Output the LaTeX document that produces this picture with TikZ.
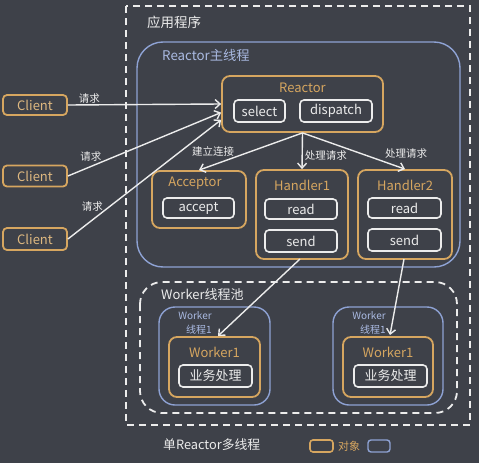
\documentclass[tikz,border=0pt]{standalone}
\usepackage{fontspec}
\setmainfont{Noto Sans CJK SC}
\usetikzlibrary{arrows.meta}
\definecolor{bg}{RGB}{62,65,73}
\definecolor{org}{RGB}{214,166,96}
\definecolor{blu}{RGB}{142,162,212}
\definecolor{blutxt}{RGB}{170,186,226}
\definecolor{wht}{RGB}{236,236,236}
\begin{document}
\begin{tikzpicture}[x=1pt,y=-1pt,
  obox/.style={draw=org,line width=1.8pt,rounded corners=8pt,inner sep=0pt},
  wbox/.style={draw=wht,line width=1.6pt,rounded corners=4pt,inner sep=0pt,text=wht,font=\fontsize{13}{15}\selectfont},
  cbox/.style={draw=org,line width=1.8pt,rounded corners=4pt,inner sep=0pt,text=org!80!white,font=\fontsize{13}{15}\selectfont,minimum width=64pt},
  ttl/.style={text=org,font=\fontsize{13}{15}\selectfont,inner sep=0pt},
  lbl/.style={text=wht,font=\fontsize{10.5}{12}\selectfont,inner sep=1pt},
  small/.style={text=blutxt,font=\fontsize{10}{11}\selectfont,inner sep=0pt},
  arr/.style={draw=wht,line width=1.4pt,-{Straight Barb[length=5pt,width=9pt,line width=1.4pt]}},
  dsh/.style={draw=wht,line width=1.8pt,dash pattern=on 7pt off 5pt},
  thr/.style={draw=blu,line width=1.4pt}]
\fill[bg] (0,0) rectangle (479,463);
\useasboundingbox (0,0) rectangle (479,463);

% outer application box
\draw[dsh] (126,6) rectangle (470,425);
\node[text=wht,font=\fontsize{13.5}{15}\selectfont,anchor=west,inner sep=0pt] (app) at (147,22) {应用程序};

% reactor main thread
\draw[thr,rounded corners=26pt] (137,42) rectangle (460,267);
\node[text=blutxt,font=\fontsize{13.3}{15}\selectfont,anchor=west,inner sep=0pt] (rmt) at (162,55) {Reactor主线程};

% Reactor
\node[obox,minimum width=161pt,minimum height=56pt] (reactor) at (302.5,104) {};
\node[ttl] (reactorT) at (302.5,88) {Reactor};
\node[wbox,minimum width=51pt,minimum height=22pt] (select) at (259.5,111) {select};
\node[wbox,minimum width=72pt,minimum height=22pt] (dispatch) at (336,111) {dispatch};

% Clients
\node[cbox,minimum height=20pt] (c1) at (35,105) {Client};
\node[cbox,minimum height=21pt] (c2) at (35,176) {Client};
\node[cbox,minimum height=22pt] (c3) at (35,239) {Client};

% Acceptor
\node[obox,minimum width=94pt,minimum height=57pt] (acceptor) at (199,199.5) {};
\node[ttl] (acceptorT) at (195,183) {Acceptor};
\node[wbox,minimum width=71pt,minimum height=20pt] (accept) at (198.5,208) {accept};

% Handler1
\node[obox,minimum width=92pt,minimum height=89pt] (h1) at (302,214.5) {};
\node[ttl] (h1T) at (302,185) {Handler1};
\node[wbox,minimum width=72pt,minimum height=20pt] (h1r) at (301,209) {read};
\node[wbox,minimum width=72pt,minimum height=22pt] (h1s) at (301,241) {send};

% Handler2
\node[obox,minimum width=94pt,minimum height=89pt] (h2) at (405,214.5) {};
\node[ttl] (h2T) at (405,185) {Handler2};
\node[wbox,minimum width=73pt,minimum height=20pt] (h2r) at (404.5,208) {read};
\node[wbox,minimum width=73pt,minimum height=22pt] (h2s) at (404.5,240) {send};

% Worker pool
\draw[dsh,rounded corners=22pt] (140,282) rectangle (457,413);
\node[text=wht,font=\fontsize{13}{15}\selectfont,anchor=west,inner sep=0pt] (pool) at (161,295) {Worker线程池};

% worker threads
\draw[thr,rounded corners=16pt] (159,307) rectangle (270,405);
\draw[thr,rounded corners=16pt] (333,307) rectangle (443,405);
\node[small] (wl1) at (195,316) {Worker};
\node[small] (wl2) at (199,330) {线程1};
\node[small] (wr1) at (369,316) {Worker};
\node[small] (wr2) at (373,330) {线程1};

\node[obox,minimum width=91pt,minimum height=60pt] (w1) at (214.5,367) {};
\node[ttl] (w1T) at (214.5,352) {Worker1};
\node[wbox,minimum width=73pt,minimum height=22pt] (w1b) at (215.5,376) {业务处理};

\node[obox,minimum width=90pt,minimum height=60pt] (w2) at (388,367) {};
\node[ttl] (w2T) at (388,352) {Worker1};
\node[wbox,minimum width=73pt,minimum height=22pt] (w2b) at (390.5,376) {业务处理};

% client arrows
\draw[arr] (c1.east) -- node[lbl,pos=0.14,above] (q1) {请求} (reactor.west);
\draw[arr] (c2.east) -- node[lbl,pos=0.15,above,yshift=3pt] (q2) {请求} (reactor.186);
\draw[arr] (c3.east) -- node[lbl,pos=0.2,above left,yshift=2pt,xshift=6pt] (q3) {请求} (reactor.191);

% reactor arrows
\draw[arr] (reactor.south) -- node[lbl,pos=0.5,left,xshift=-15pt,yshift=0pt] (e1) {建立连接} (acceptor.north);
\draw[arr] (reactor.south) -- node[lbl,pos=0.62,right,xshift=1pt] (e2) {处理请求} (h1.north);
\draw[arr] (reactor.south) -- node[lbl,pos=0.78,anchor=south west,inner sep=2pt] (e3) {处理请求} (h2.north);

% to workers
\coordinate (h1o) at (300,259);
\coordinate (w1i) at (218,336);
\draw[arr] (h1o) -- (w1i);
\coordinate (h2o) at (404,259);
\coordinate (w2i) at (390,335);
\draw[arr] (h2o) -- (w2i);

% bottom
\node[text=wht,font=\fontsize{12.8}{15}\selectfont,anchor=west,inner sep=0pt] (cap) at (163,445) {单Reactor多线程};
\node[draw=org,line width=1.6pt,rounded corners=3pt,minimum width=23pt,minimum height=12pt,inner sep=0pt] (lg1) at (321.5,446) {};
\node[text=org,font=\fontsize{11}{13}\selectfont,anchor=west,inner sep=0pt] (lg1t) at (338,446) {对象};
\node[draw=blu,line width=1.4pt,rounded corners=3pt,minimum width=22pt,minimum height=12pt,inner sep=0pt] (lg2) at (379,446) {};
\end{tikzpicture}
\end{document}
